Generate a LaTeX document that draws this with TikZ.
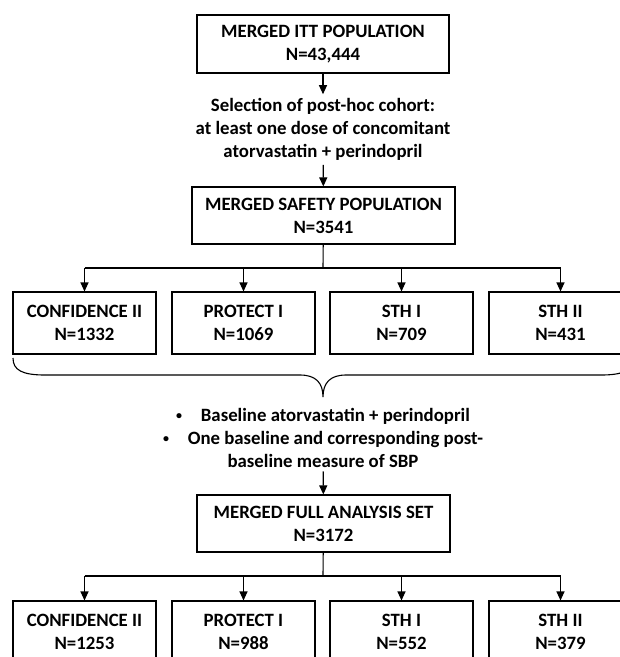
\documentclass[tikz,border=0pt]{standalone}
\usepackage{fontspec}
\setmainfont{Carlito}
\usepackage{tikz}
\usetikzlibrary{arrows.meta}

\newcommand{\smallbul}{\raisebox{1.8pt}{\fontsize{12}{12}\selectfont\textbullet}\hspace{1em}}

\tikzset{
  box/.style={draw,line width=1.1pt,minimum width=143pt,minimum height=62pt,align=center,inner sep=0pt},
  bigbox/.style={box,minimum width=253pt,minimum height=57pt},
  note/.style={align=center,inner xsep=0pt,inner ysep=4pt},
  arr/.style={-{Triangle[width=8pt,length=9pt]},line width=1.1pt},
  link/.style={line width=1.1pt}
}

\begin{document}
\begin{tikzpicture}[x=1pt,y=-1pt,font=\fontsize{18.8}{23}\selectfont\bfseries]
\useasboundingbox (0,0) rectangle (620,657);
% top of the chart
\node[bigbox,minimum width=252pt,minimum height=58pt] (itt) at (323,44) {MERGED ITT POPULATION\\N=43,444};
\node[note] (sel) at (323,129.5) {Selection of post-hoc cohort:\\at least one dose of concomitant\\atorvastatin + perindopril};
\node[bigbox,minimum width=263pt] (safety) at (323.5,215.5) {MERGED SAFETY POPULATION\\N=3541};
\draw[arr] (itt) -- (sel);
\draw[arr] (sel) -- (safety);

% studies, safety population
\node[box] (sa) at (84.5,323) {CONFIDENCE II\\N=1332};
\node[box] (sb) at (243.5,323) {PROTECT I\\N=1069};
\node[box] (sc) at (401.5,323) {STH I\\N=709};
\node[box] (sd) at (560.5,323) {STH II\\N=431};
\coordinate (split1) at (323,268);
\draw[link] (safety) -- (split1);
\draw[link] (split1 -| sa) -- (split1 -| sd);
\foreach \s in {sa,sb,sc,sd}
  \draw[arr] (split1 -| \s) -- (\s);

% brace under the studies
\coordinate (brtip) at (323,397);
\draw[link] (13,358) .. controls (13,370) and (22,375) .. (45,375) -- (300,375)
  .. controls (316,375) and (323,383) .. (brtip)
  .. controls (323,383) and (330,375) .. (346,375) -- (601,375)
  .. controls (624,375) and (633,370) .. (633,358);
\node[note] (crit) at (323,437.5) {\smallbul Baseline atorvastatin + perindopril\\
  \smallbul One baseline and corresponding post-\\baseline measure of SBP};

\node[bigbox] (full) at (323.5,523.5) {MERGED FULL ANALYSIS SET\\N=3172};
\draw[arr] (crit) -- (full);

% studies, full analysis set
\node[box] (fa) at (84.5,632) {CONFIDENCE II\\N=1253};
\node[box] (fb) at (243.5,632) {PROTECT I\\N=988};
\node[box] (fc) at (401.5,632) {STH I\\N=552};
\node[box] (fd) at (560.5,632) {STH II\\N=379};
\coordinate (split2) at (323,576);
\draw[link] (full) -- (split2);
\draw[link] (split2 -| fa) -- (split2 -| fd);
\foreach \s in {fa,fb,fc,fd}
  \draw[arr] (split2 -| \s) -- (\s);
\end{tikzpicture}
\end{document}
